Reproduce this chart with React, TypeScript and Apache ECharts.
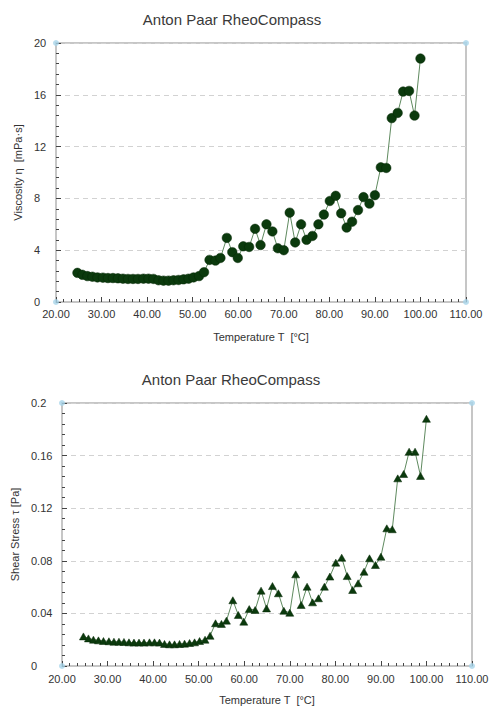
import React, { useEffect, useRef } from "react";
import * as echarts from "echarts";

const chartTitle = "Anton Paar RheoCompass";
const xAxisName = "Temperature T  [°C]";
const topYName = "Viscosity η  [mPa·s]";
const bottomYName = "Shear Stress τ [Pa]";

const temperature = [
  24.7, 25.8, 26.9, 28.0, 29.1, 30.3, 31.4, 32.5, 33.6, 34.7, 35.8, 36.9, 38.0,
  39.2, 40.3, 41.4, 42.5, 43.6, 44.7, 45.8, 46.9, 48.0, 49.1, 50.2, 51.4, 52.5,
  53.7, 55.0, 56.1, 57.5, 58.7, 59.9, 61.1, 62.4, 63.7, 64.9, 66.2, 67.5, 68.7,
  70.0, 71.3, 72.5, 73.8, 75.0, 76.3, 77.6, 78.8, 80.1, 81.4, 82.6, 83.8, 85.0,
  86.3, 87.5, 88.8, 90.0, 91.3, 92.5, 93.7, 95.0, 96.2, 97.5, 98.7, 100.0,
];

const viscosity = [
  2.25, 2.1, 2.0, 1.95, 1.9, 1.88, 1.85, 1.85, 1.83, 1.8, 1.78, 1.78, 1.78,
  1.8, 1.8, 1.78, 1.68, 1.65, 1.65, 1.68, 1.7, 1.75, 1.8, 1.9, 2.0, 2.3,
  3.25, 3.2, 3.4, 4.95, 3.85, 3.4, 4.3, 4.25, 5.65, 4.4, 6.0, 5.45, 4.15,
  4.0, 6.9, 4.6, 6.0, 4.8, 5.1, 6.0, 6.75, 7.8, 8.2, 6.85, 5.75, 6.2,
  7.1, 8.1, 7.6, 8.25, 10.4, 10.35, 14.2, 14.6, 16.25, 16.3, 14.4, 18.8,
];

const shearStress = [
  0.0225, 0.021, 0.02, 0.0195, 0.019, 0.0188, 0.0185, 0.0185, 0.0183, 0.018, 0.0178, 0.0178, 0.0178,
  0.018, 0.018, 0.0178, 0.0168, 0.0165, 0.0165, 0.0168, 0.017, 0.0175, 0.018, 0.019, 0.02, 0.023,
  0.0325, 0.032, 0.0345, 0.05, 0.0388, 0.0337, 0.0433, 0.0426, 0.0573, 0.0438, 0.0608, 0.0553, 0.042,
  0.0405, 0.0697, 0.0464, 0.0603, 0.0484, 0.0515, 0.0603, 0.068, 0.0786, 0.0824, 0.0684, 0.0578, 0.0629,
  0.0717, 0.0819, 0.0768, 0.0831, 0.1047, 0.104, 0.1427, 0.146, 0.163, 0.163, 0.1445, 0.188,
];

const xMin = 20;
const xMax = 110;
const xInterval = 10;
const topYMax = 20;
const topYInterval = 4;
const bottomYMax = 0.2;
const bottomYInterval = 0.04;

const FONT = "Liberation Sans, Arial, sans-serif";
const TEXT = "#333333";
const BORDER = "#c6c6c6";
const MARKER = "#0b3a0d";
const LINE = "#5f8a5f";
const CORNER = "#a8d4ea";

function xAxisCfg(gridIndex: number, labelMargin: number, nameGap: number) {
  return {
    type: "value",
    gridIndex,
    min: xMin,
    max: xMax,
    interval: xInterval,
    name: xAxisName,
    nameLocation: "middle",
    nameGap,
    nameTextStyle: { fontFamily: FONT, fontSize: 11, color: TEXT },
    axisLine: { show: true, lineStyle: { color: BORDER, width: 2 } },
    axisTick: { show: true, inside: true, length: 5, lineStyle: { color: "#444", width: 1 } },
    minorTick: { show: true, splitNumber: 6, length: 3, lineStyle: { color: "#444", width: 1 } },
    axisLabel: {
      margin: labelMargin,
      fontFamily: FONT,
      fontSize: 11,
      color: TEXT,
      formatter: (v: number) => v.toFixed(2),
    },
    splitLine: { show: false },
  };
}

function yAxisCfg(
  gridIndex: number,
  max: number,
  interval: number,
  name: string,
  nameGap: number,
  labelMargin: number,
  fmt: (v: number) => string
) {
  return {
    type: "value",
    gridIndex,
    min: 0,
    max,
    interval,
    name,
    nameLocation: "middle",
    nameGap,
    nameTextStyle: { fontFamily: FONT, fontSize: 11, color: TEXT },
    axisLine: { show: true, lineStyle: { color: BORDER, width: 2 } },
    axisTick: { show: true, inside: true, length: 5, lineStyle: { color: "#444", width: 1 } },
    minorTick: { show: true, splitNumber: 5, length: 3, lineStyle: { color: "#444", width: 1 } },
    axisLabel: {
      margin: labelMargin,
      align: "left",
      fontFamily: FONT,
      fontSize: 11,
      color: TEXT,
      formatter: fmt,
    },
    splitLine: { show: true, lineStyle: { color: "#d2d2d2", type: [5, 4], width: 1 } },
  };
}

export default function App() {
  const ref = useRef<HTMLDivElement>(null);

  useEffect(() => {
    if (!ref.current) return;
    const chart = echarts.init(ref.current, undefined, { renderer: "svg" });

    const topData = temperature.map((t, i) => [t, viscosity[i]]);
    const bottomData = temperature.map((t, i) => [t, shearStress[i]]);
    const topCorners = [[xMin, 0], [xMin, topYMax], [xMax, topYMax], [xMax, 0]];
    const bottomCorners = [[xMin, 0], [xMin, bottomYMax], [xMax, bottomYMax], [xMax, 0]];

    chart.setOption({
      animation: false,
      backgroundColor: "#ffffff",
      graphic: [
        {
          type: "text",
          x: 232,
          y: 19,
          style: {
            text: chartTitle,
            fontFamily: FONT,
            fontSize: 15,
            fill: "#3a3a3a",
            textAlign: "center",
            textVerticalAlign: "middle",
          },
        },
        {
          type: "text",
          x: 231,
          y: 379,
          style: {
            text: chartTitle,
            fontFamily: FONT,
            fontSize: 15,
            fill: "#3a3a3a",
            textAlign: "center",
            textVerticalAlign: "middle",
          },
        },
      ],
      grid: [
        { left: 56, top: 43, width: 410, height: 259, show: true, borderColor: BORDER, borderWidth: 2, backgroundColor: "transparent" },
        { left: 62, top: 403, width: 410, height: 263, show: true, borderColor: BORDER, borderWidth: 2, backgroundColor: "transparent" },
      ],
      xAxis: [xAxisCfg(0, 6, 29), xAxisCfg(1, 7, 28)],
      yAxis: [
        yAxisCfg(0, topYMax, topYInterval, topYName, 32, 22, (v: number) => String(v)),
        yAxisCfg(1, bottomYMax, bottomYInterval, bottomYName, 36, 31, (v: number) =>
          String(Math.round(v * 100) / 100)
        ),
      ],
      series: [
        {
          type: "line",
          xAxisIndex: 0,
          yAxisIndex: 0,
          data: topData,
          symbol: "circle",
          symbolSize: 9.5,
          showAllSymbol: true,
          itemStyle: { color: MARKER, borderColor: "#062806", borderWidth: 0.5 },
          lineStyle: { color: LINE, width: 1 },
          z: 3,
        },
        {
          type: "line",
          xAxisIndex: 1,
          yAxisIndex: 1,
          data: bottomData,
          symbol: "triangle",
          symbolSize: [8, 7],
          showAllSymbol: true,
          itemStyle: { color: MARKER, borderColor: "#062806", borderWidth: 0.5 },
          lineStyle: { color: LINE, width: 1 },
          z: 3,
        },
        {
          type: "scatter",
          xAxisIndex: 0,
          yAxisIndex: 0,
          data: topCorners,
          symbolSize: 6,
          itemStyle: { color: CORNER },
          clip: false,
          z: 5,
        },
        {
          type: "scatter",
          xAxisIndex: 1,
          yAxisIndex: 1,
          data: bottomCorners,
          symbolSize: 6,
          itemStyle: { color: CORNER },
          clip: false,
          z: 5,
        },
      ],
    });

    return () => {
      chart.dispose();
    };
  }, []);

  return (
    <div
      ref={ref}
      style={{ position: "fixed", left: 0, top: 0, width: 496, height: 706, background: "#fff" }}
    />
  );
}
